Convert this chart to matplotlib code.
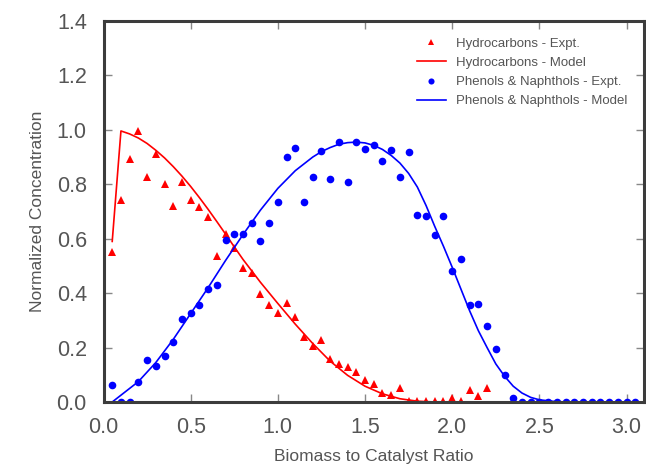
import matplotlib
matplotlib.use('Agg')
import matplotlib.pyplot as plt

plt.rcParams['font.family'] = ['Liberation Sans', 'DejaVu Sans']

# experimental points (x step 0.05)
hc_x = [0.05, 0.10, 0.15, 0.20, 0.25, 0.30, 0.35, 0.40, 0.45, 0.50,
        0.55, 0.60, 0.65, 0.70, 0.75, 0.80, 0.85, 0.90, 0.95, 1.00,
        1.05, 1.10, 1.15, 1.20, 1.25, 1.30, 1.35, 1.40, 1.45, 1.50,
        1.55, 1.60, 1.65, 1.70, 1.75, 1.80, 1.85, 1.90, 1.95, 2.00,
        2.05, 2.10, 2.15, 2.20]
hc_y = [0.553, 0.743, 0.892, 0.994, 0.825, 0.912, 0.800, 0.722, 0.810, 0.743,
        0.716, 0.681, 0.537, 0.618, 0.565, 0.491, 0.473, 0.396, 0.357, 0.328,
        0.363, 0.311, 0.240, 0.204, 0.228, 0.158, 0.140, 0.130, 0.112, 0.081,
        0.065, 0.032, 0.026, 0.050, 0.005, 0.003, 0.004, 0.002, 0.003, 0.016,
        0.002, 0.045, 0.022, 0.053]

pn_x = [0.05, 0.10, 0.15, 0.20, 0.25, 0.30, 0.35, 0.40, 0.45, 0.50,
        0.55, 0.60, 0.65, 0.70, 0.75, 0.80, 0.85, 0.90, 0.95, 1.00,
        1.05, 1.10, 1.15, 1.20, 1.25, 1.30, 1.35, 1.40, 1.45, 1.50,
        1.55, 1.60, 1.65, 1.70, 1.75, 1.80, 1.85, 1.90, 1.95, 2.00,
        2.05, 2.10, 2.15, 2.20, 2.25, 2.30, 2.35, 2.40, 2.45, 2.50,
        2.55, 2.60, 2.65, 2.70, 2.75, 2.80, 2.85, 2.90, 2.95, 3.00, 3.05]
pn_y = [0.063, 0.0, 0.0, 0.075, 0.154, 0.133, 0.169, 0.222, 0.305, 0.328,
        0.358, 0.417, 0.430, 0.596, 0.616, 0.616, 0.659, 0.593, 0.657, 0.736,
        0.902, 0.933, 0.734, 0.825, 0.923, 0.820, 0.955, 0.810, 0.957, 0.929,
        0.945, 0.886, 0.926, 0.828, 0.920, 0.688, 0.684, 0.614, 0.685, 0.482,
        0.525, 0.357, 0.360, 0.280, 0.195, 0.099, 0.014, 0.0, 0.0, 0.0,
        0.0, 0.0, 0.0, 0.0, 0.0, 0.0, 0.0, 0.0, 0.0, 0.0, 0.0]

# model curves
hc_model_x = [0.05, 0.10, 0.15, 0.20, 0.25, 0.30, 0.35, 0.40, 0.45, 0.50,
              0.55, 0.60, 0.65, 0.70, 0.75, 0.80, 0.90, 1.00, 1.10, 1.20,
              1.30, 1.40, 1.50, 1.60, 1.70, 1.80, 1.90, 3.10]
hc_model_y = [0.590, 0.996, 0.985, 0.970, 0.950, 0.925, 0.897, 0.865, 0.830, 0.792,
              0.751, 0.708, 0.663, 0.617, 0.570, 0.524, 0.440, 0.362, 0.286, 0.215,
              0.150, 0.098, 0.058, 0.030, 0.012, 0.003, 0.0, 0.0]

pn_model_x = [0.05, 0.10, 0.20, 0.30, 0.40, 0.50, 0.60, 0.70, 0.80, 0.90,
              1.00, 1.10, 1.20, 1.25, 1.30, 1.35, 1.40, 1.45, 1.50, 1.55,
              1.60, 1.65, 1.70, 1.75, 1.80, 1.85, 1.90, 1.95, 2.00, 2.05,
              2.10, 2.15, 2.20, 2.25, 2.30, 2.35, 2.40, 2.45, 2.50, 2.60,
              2.70, 3.10]
pn_model_y = [0.0, 0.025, 0.075, 0.145, 0.230, 0.325, 0.420, 0.520, 0.615, 0.705,
              0.785, 0.850, 0.900, 0.920, 0.935, 0.947, 0.953, 0.955, 0.952, 0.943,
              0.928, 0.906, 0.878, 0.840, 0.790, 0.722, 0.645, 0.572, 0.495, 0.415,
              0.335, 0.262, 0.200, 0.140, 0.095, 0.058, 0.033, 0.017, 0.008, 0.001,
              0.0, 0.0]

xticks = [0.0, 0.5, 1.0, 1.5, 2.0, 2.5, 3.0]
yticks = [0.0, 0.2, 0.4, 0.6, 0.8, 1.0, 1.2, 1.4]

W, H = 646, 465
fig = plt.figure(figsize=(W / 100, H / 100), dpi=100)
ax = fig.add_axes([103.5 / W, 1 - 402 / H, 540.5 / W, 381 / H])

ax.plot(hc_x, hc_y, '^', color='#ff0000', markersize=5.5, markeredgewidth=0,
        label='Hydrocarbons - Expt.')
ax.plot(hc_model_x, hc_model_y, '-', color='#ff0000', linewidth=1.2,
        label='Hydrocarbons - Model')
ax.plot(pn_x, pn_y, 'o', color='#0000ff', markersize=5.5, markeredgewidth=0,
        label='Phenols & Naphthols - Expt.')
ax.plot(pn_model_x, pn_model_y, '-', color='#0000ff', linewidth=1.2,
        label='Phenols & Naphthols - Model')

ax.set_xlim(0, 3.1)
ax.set_ylim(0, 1.4)
ax.set_xticks(xticks)
ax.set_yticks(yticks)
ax.set_xticklabels([f'{v:.1f}' for v in xticks])
ax.set_yticklabels([f'{v:.1f}' for v in yticks])

for s in ax.spines.values():
    s.set_color('#3c3c3c')
    s.set_linewidth(2.2)

ax.tick_params(axis='both', direction='in', length=6, width=1, color='#888888',
               labelcolor='#555555', labelsize=15.5, top=True, right=True)
ax.tick_params(axis='x', pad=11)
ax.tick_params(axis='y', pad=12)

ax.set_xlabel('Biomass to Catalyst Ratio', fontsize=12.5, color='#555555', labelpad=8)
ax.set_ylabel('Normalized Concentration', fontsize=12.5, color='#555555', labelpad=8)

leg = ax.legend(loc='upper left', bbox_to_anchor=(416.7 / W, 1 - 37.7 / H),
                bbox_transform=fig.transFigure, frameon=False, fontsize=9.5,
                borderpad=0, borderaxespad=0, handlelength=2.2, handletextpad=0.8,
                labelspacing=0.52, markerscale=0.8, numpoints=1)
for t in leg.get_texts():
    t.set_color('#555555')

fig.savefig('out.png', dpi=100, facecolor='white')
